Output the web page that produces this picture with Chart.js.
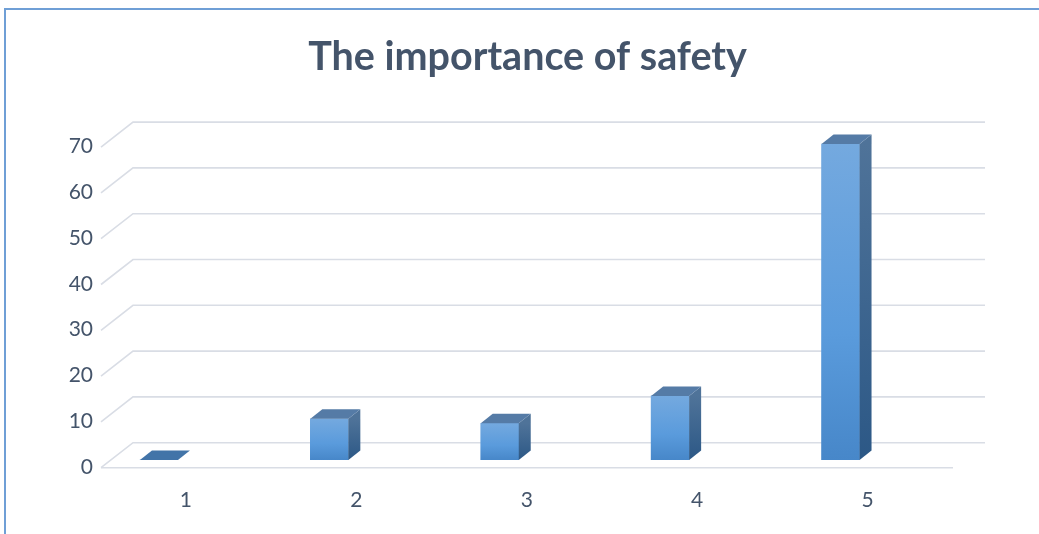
<!DOCTYPE html>
<html>
<head>
<meta charset="utf-8">
<title>The importance of safety</title>
<script src="https://cdn.jsdelivr.net/npm/chart.js@4"></script>
<style>
    html, body { margin: 0; padding: 0; background: #fff; overflow: hidden; }
    #frame { position: absolute; left: 4px; top: 8px; width: 1200px; height: 700px;
             border-top: 2px solid #6f9fd6; border-left: 2px solid #6f9fd6; }
    #wrap { position: absolute; left: 0; top: 0; width: 1055px; height: 534px; }
</style>
</head>
<body>
<div id="frame"></div>
<div id="wrap"><canvas id="safetyChart"></canvas></div>
<script>
const categories = ["1", "2", "3", "4", "5"];
const scores = [0, 9, 8, 14, 69];
const yMin = 0;
const yMax = 70;
const yStep = 10;

const textColor = "#44546a";
const gridColor = "#d9dde5";

// bars stand a bit left of the category labels (excel 3d look)
const xMin = 0.66;
const xMax = 5.66;
const labelShift = 27;

const frontDrop = 7.7;   // front grid line below the bar base
const wallDx = 32, wallDy = 25;
const barDx = 12, barDy = 9.5;

const perspectiveGrid = {
    id: "perspectiveGrid",
    beforeDatasetsDraw(chart) {
        const { ctx, chartArea, scales } = chart;
        const y = scales.y;
        const frontL = chartArea.left;
        const frontR = chartArea.right;
        ctx.save();
        ctx.strokeStyle = gridColor;
        ctx.lineWidth = 1.6;
        y.ticks.forEach(t => {
            const py = y.getPixelForValue(t.value);
            ctx.beginPath();
            ctx.moveTo(frontL, py + frontDrop);
            ctx.lineTo(frontL + wallDx, py + frontDrop - wallDy);
            ctx.lineTo(frontR + wallDx, py + frontDrop - wallDy);
            ctx.stroke();
        });
        const p0 = y.getPixelForValue(0) + frontDrop;
        ctx.beginPath();
        ctx.moveTo(frontL, p0);
        ctx.lineTo(frontR, p0);
        ctx.stroke();
        ctx.restore();
    },
    afterDatasetsDraw(chart) {
        const { ctx } = chart;
        const meta = chart.getDatasetMeta(0);
        ctx.save();
        meta.data.forEach(bar => {
            const left = bar.x - bar.width / 2;
            const right = bar.x + bar.width / 2;
            const top = bar.y, base = bar.base;

            if (base - top > 0.5) {
                const side = ctx.createLinearGradient(0, top, 0, base);
                side.addColorStop(0, "#4f7399");
                side.addColorStop(1, "#2c5886");
                ctx.fillStyle = side;
                ctx.beginPath();
                ctx.moveTo(right, top);
                ctx.lineTo(right + barDx, top - barDy);
                ctx.lineTo(right + barDx, base - barDy);
                ctx.lineTo(right, base);
                ctx.closePath();
                ctx.fill();
                ctx.fillStyle = "#557ba6";
            } else {
                ctx.fillStyle = "#4274a8";
            }
            ctx.beginPath();
            ctx.moveTo(left, top);
            ctx.lineTo(left + barDx, top - barDy);
            ctx.lineTo(right + barDx, top - barDy);
            ctx.lineTo(right, top);
            ctx.closePath();
            ctx.fill();
        });
        ctx.restore();
    }
};

function frontFill(context) {
    const chart = context.chart;
    if (!chart.chartArea || context.type !== "data") return "#5b9bd5";
    const y = chart.scales.y;
    const top = y.getPixelForValue(context.parsed.y);
    const bottom = y.getPixelForValue(0);
    if (bottom - top < 1) return "#5b9bd5";
    const g = chart.ctx.createLinearGradient(0, top, 0, bottom);
    g.addColorStop(0, "#74a9df");
    g.addColorStop(0.6, "#5a9bdc");
    g.addColorStop(1, "#4787c9");
    return g;
}

const tickFont = { family: "Lato", size: 21 };

new Chart(document.getElementById("safetyChart"), {
    type: "bar",
    data: {
        datasets: [{
            label: "Scores",
            data: scores.map((v, i) => ({ x: i + 1, y: v })),
            backgroundColor: frontFill,
            borderWidth: 0,
            barThickness: 38
        }]
    },
    options: {
        responsive: true,
        maintainAspectRatio: false,
        animation: false,
        layout: { padding: 0 },
        plugins: {
            legend: { display: false },
            tooltip: { enabled: false },
            title: {
                display: true,
                text: "The importance of safety",
                color: textColor,
                font: { family: "Lato", size: 39.5, weight: "bold" },
                padding: { top: 34, bottom: 58 }
            }
        },
        scales: {
            x: {
                type: "linear",
                min: xMin,
                max: xMax,
                offset: false,
                grid: { display: false, drawTicks: false },
                border: { display: false },
                afterBuildTicks: s => { s.ticks = categories.map((c, i) => ({ value: i + 1 })); },
                ticks: {
                    labelOffset: labelShift,
                    padding: 28,
                    color: textColor,
                    font: tickFont,
                    callback: v => categories[v - 1]
                },
                afterFit: s => { s.height = 74; s.paddingRight = 102; }
            },
            y: {
                min: yMin,
                max: yMax,
                grid: { display: false, drawTicks: false },
                border: { display: false },
                ticks: { stepSize: yStep, labelOffset: 7, padding: 8, color: textColor, font: tickFont },
                afterFit: s => { s.width = 101; }
            }
        }
    },
    plugins: [perspectiveGrid]
});
</script>
</body>
</html>
